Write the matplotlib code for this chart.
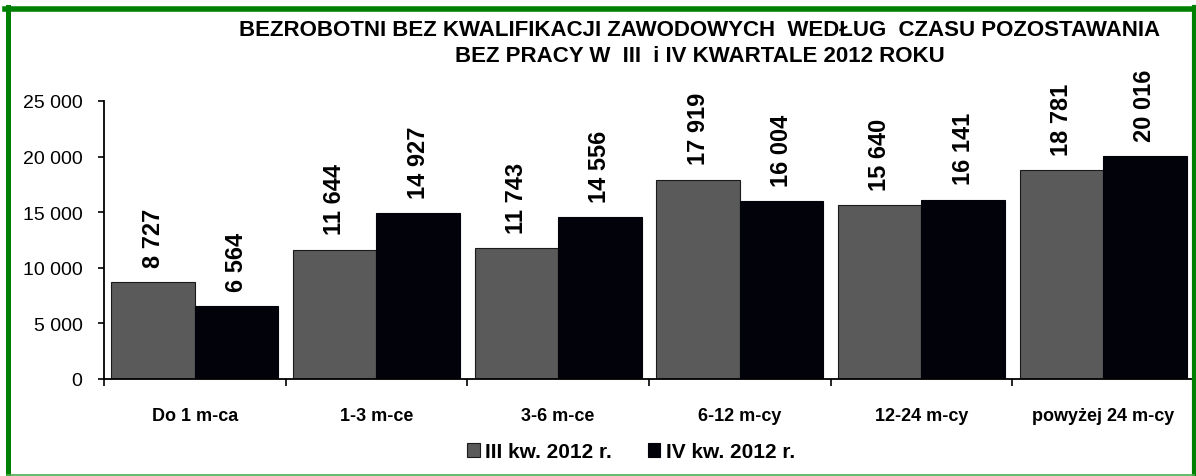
import matplotlib
matplotlib.use("Agg")
import matplotlib.pyplot as plt
from matplotlib.lines import Line2D
import numpy as np

plt.rcParams['font.family'] = ['Liberation Sans', 'DejaVu Sans']

categories = ["Do 1 m-ca", "1-3 m-ce", "3-6 m-ce", "6-12 m-cy", "12-24 m-cy", "powyżej 24 m-cy"]
series_names = ["III kw. 2012 r.", "IV kw. 2012 r."]
q3 = [8727, 11644, 11743, 17919, 15640, 18781]
q4 = [6564, 14927, 14556, 16004, 16141, 20016]
yticks = [0, 5000, 10000, 15000, 20000, 25000]
ytick_labels = ["0", "5 000", "10 000", "15 000", "20 000", "25 000"]
title_lines = ["BEZROBOTNI BEZ KWALIFIKACJI ZAWODOWYCH  WEDŁUG  CZASU POZOSTAWANIA",
               "BEZ PRACY W  III  i IV KWARTALE 2012 ROKU"]

def fmt(v):
    return f"{v:,}".replace(",", " ")

W, H = 1196, 477
fig = plt.figure(figsize=(W/100, H/100), dpi=100)
ax = fig.add_axes([104/W, 1-380/H, 1090/W, (380-102)/H])

x = np.arange(len(categories))
w = 0.46
b1 = ax.bar(x - w/2, q3, w, color="#5a5a5a", edgecolor="#1a1a1a", linewidth=0.8, label=series_names[0])
b2 = ax.bar(x + w/2, q4, w, color="#02020a", edgecolor="#02020a", linewidth=0.8, label=series_names[1])

for bars, vals in ((b1, q3), (b2, q4)):
    for r, v in zip(bars, vals):
        ax.annotate(fmt(v), (r.get_x() + r.get_width()/2, v), xytext=(0, 11),
                    textcoords="offset points", rotation=90, ha="center", va="bottom",
                    fontsize=17, fontweight="bold")

ax.set_xlim(-0.5, len(categories) - 0.5)
ax.set_ylim(0, 25000)
ax.set_yticks(yticks)
ax.set_yticklabels(ytick_labels, fontsize=14)
ax.set_xticks(np.arange(len(categories) + 1) - 0.5, minor=False)
ax.set_xticklabels([])
ax.set_xticks(x, minor=True)
ax.set_xticklabels(categories, minor=True, fontsize=13, fontweight="bold")
ax.tick_params(axis="x", which="minor", length=0, pad=20)
ax.tick_params(axis="x", which="major", length=5, width=1.2, direction="out")
ax.tick_params(axis="y", length=4.5, width=1.2, direction="out", pad=11)
for s in ("top", "right"):
    ax.spines[s].set_visible(False)
ax.spines["left"].set_linewidth(1.3)
ax.spines["bottom"].set_linewidth(1.3)

fig.text(700/W, 1-31/H, title_lines[0], ha="center", va="center", fontsize=16, fontweight="bold")
fig.text(700/W, 1-57/H, title_lines[1], ha="center", va="center", fontsize=16, fontweight="bold")

fig.legend(handles=[b1, b2], labels=series_names, loc="center", bbox_to_anchor=(631/W, 1-453/H),
           ncol=2, frameon=False, prop={"size": 15, "weight": "bold"},
           handlelength=0.62, handleheight=0.62, handletextpad=0.25, columnspacing=1.7)

green = "#008000"
fig.add_artist(Line2D([7.5/W, 7.5/W], [1-8/H, 0], transform=fig.transFigure, color=green, linewidth=3.6))
fig.add_artist(Line2D([5/W, 1194.5/W], [1-10/H, 1-10/H], transform=fig.transFigure, color=green, linewidth=4))
fig.add_artist(Line2D([1194/W, 1194/W], [1-8/H, 0], transform=fig.transFigure, color=green, linewidth=3))
fig.add_artist(Line2D([7/W, 1194/W], [1-475.5/H, 1-475.5/H], transform=fig.transFigure, color="#4caf50", linewidth=1.2))

fig.savefig("out.png", dpi=100)
